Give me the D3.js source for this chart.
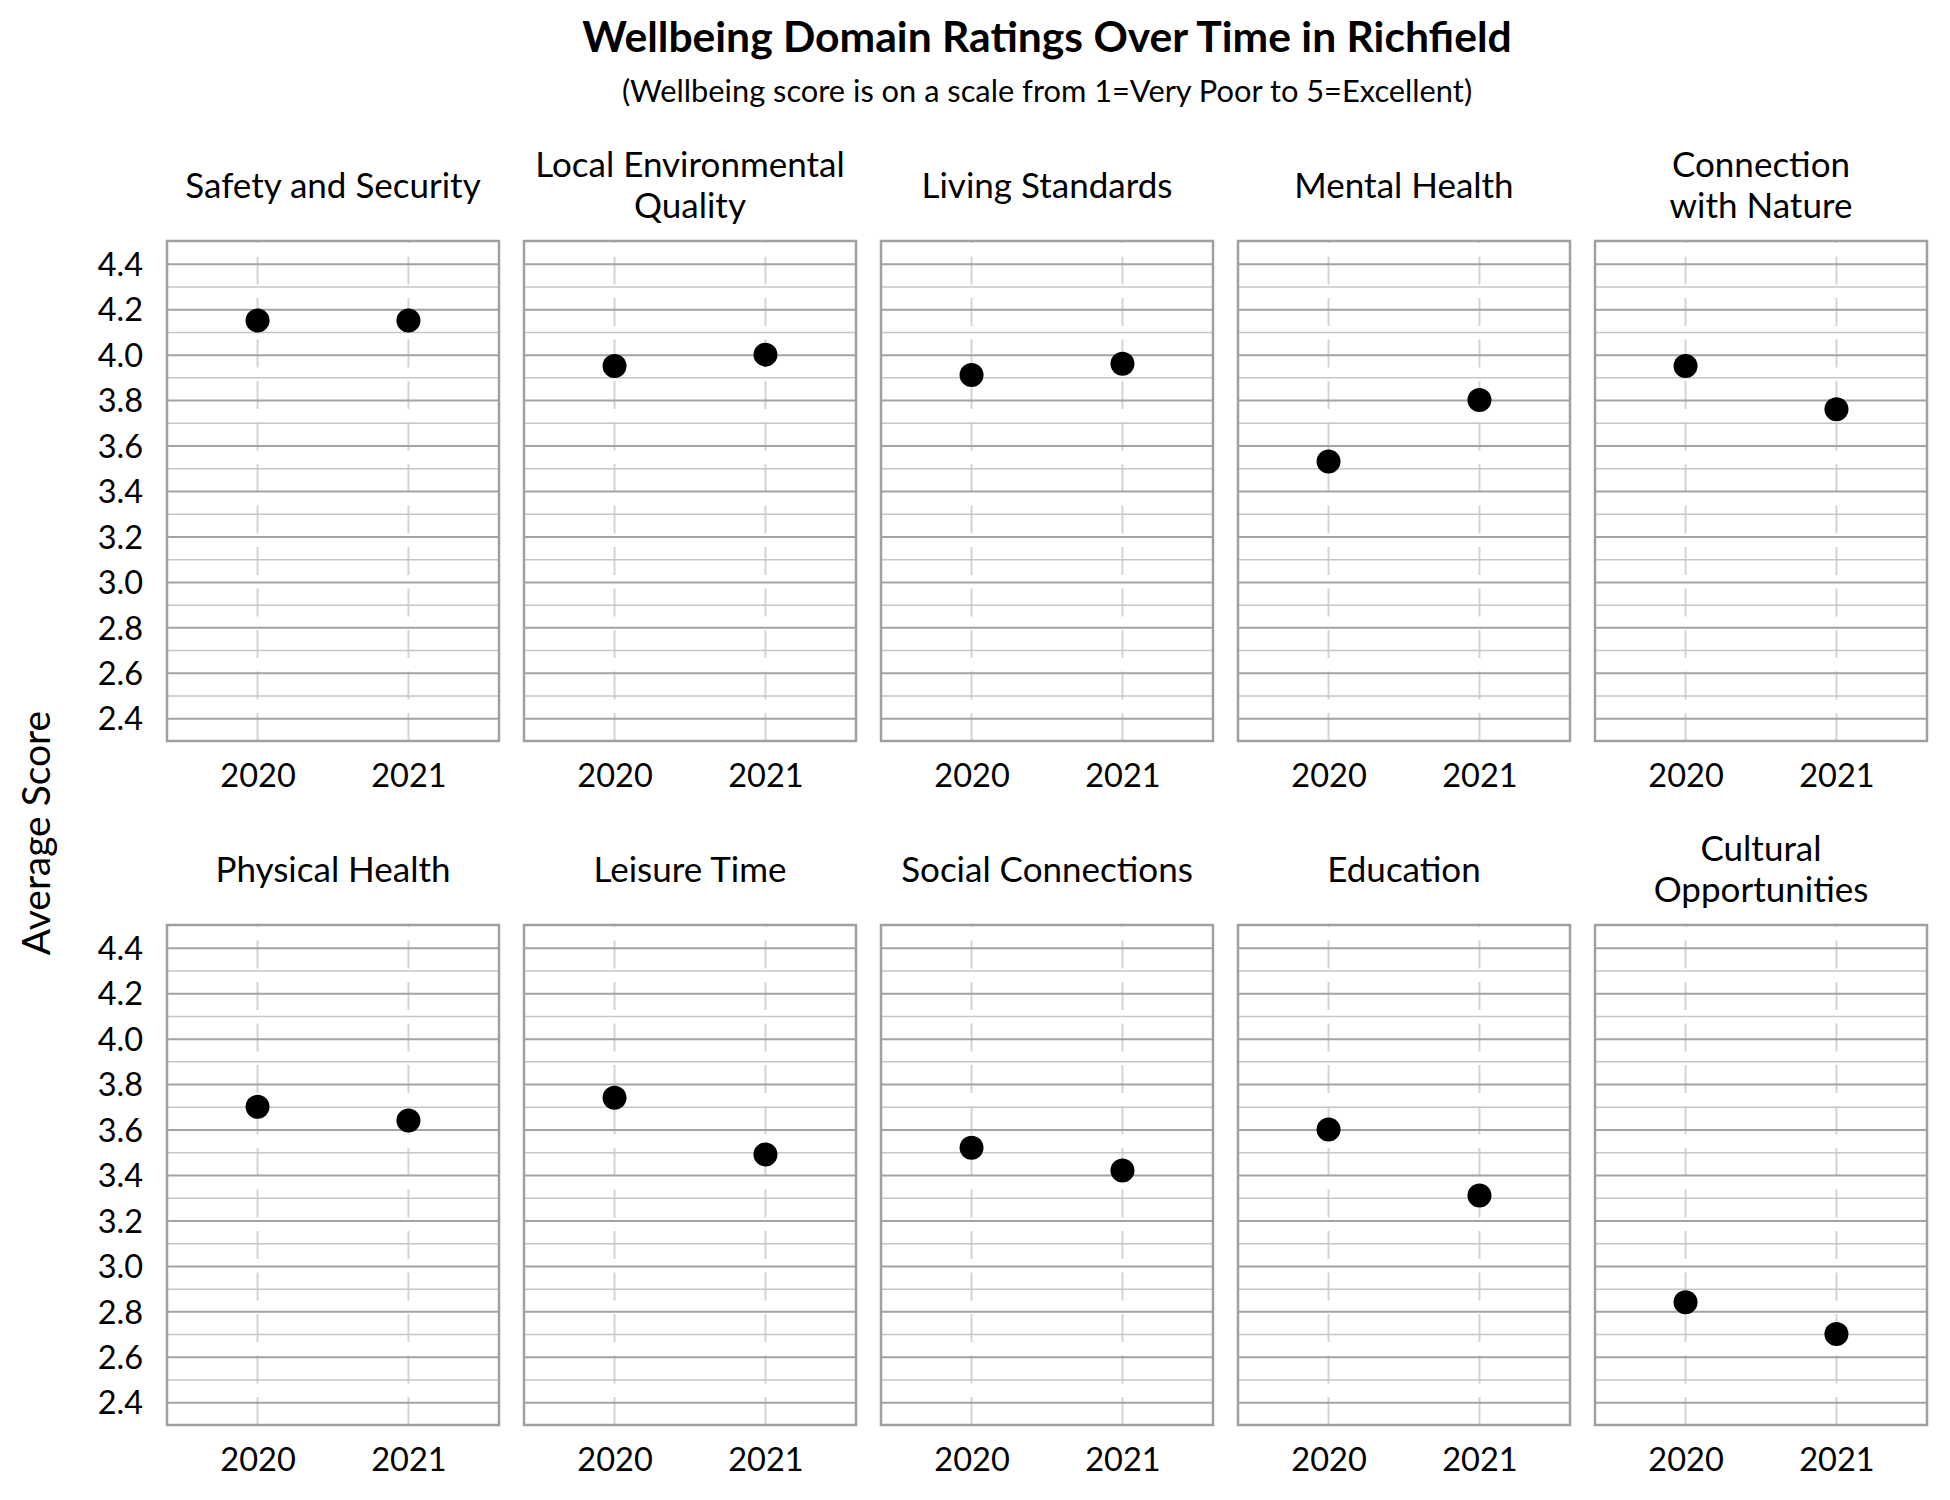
<!DOCTYPE html>
<html>
<head>
<meta charset="utf-8">
<script src="https://cdn.jsdelivr.net/npm/d3@7"></script>
<style>
    body { margin: 0; background: #fff; }
    svg text { font-family: Lato, 'Open Sans', sans-serif; fill: #000; }
    .grid .domain { display: none; }
</style>
</head>
<body>
<div id="chart"></div>
<script>
// chart data
const years = ['2020', '2021'];
const domains = ['Safety and Security', 'Local Environmental Quality', 'Living Standards', 'Mental Health',
    'Connection with Nature', 'Physical Health', 'Leisure Time', 'Social Connections', 'Education',
    'Cultural Opportunities'];
// panel headings as they wrap in the original
const panelTitles = ['Safety and Security', 'Local Environmental\nQuality', 'Living Standards', 'Mental Health',
    'Connection\nwith Nature', 'Physical Health', 'Leisure Time', 'Social Connections', 'Education',
    'Cultural\nOpportunities'];
const scores2020 = [4.15, 3.95, 3.91, 3.53, 3.95, 3.70, 3.74, 3.52, 3.60, 2.84];
const scores2021 = [4.15, 4.00, 3.96, 3.80, 3.76, 3.64, 3.49, 3.42, 3.31, 2.70];
const yTicks = [2.4, 2.6, 2.8, 3.0, 3.2, 3.4, 3.6, 3.8, 4.0, 4.2, 4.4];
const yDomain = [2.3, 4.5];

const chartTitle = 'Wellbeing Domain Ratings Over Time in Richfield';
const chartSubtitle = '(Wellbeing score is on a scale from 1=Very Poor to 5=Excellent)';
const yLabel = 'Average Score';

class SmallMultiples {
    constructor(){
        this.width = 1950;
        this.height = 1500;
        this.margin = {top: 241, left: 167};
        this.panelW = 332;
        this.panelH = 500;
        this.gapX = 25;
        this.rowStep = 684;
        this.cols = 5;

        this.svg = d3.select('#chart').append('svg')
            .attr('width', this.width).attr('height', this.height)
            ;
    }

    draw(){
        let totalW = this.cols * this.panelW + (this.cols - 1) * this.gapX;
        let cx = this.margin.left + totalW / 2;

        // Titles
        this.svg.append('text')
            .attr('x', cx).attr('y', 52)
            .attr('text-anchor', 'middle')
            .style('font-size', '42.6px').style('font-weight', 700)
            .text(chartTitle);
        this.svg.append('text')
            .attr('x', cx).attr('y', 102)
            .attr('text-anchor', 'middle')
            .style('font-size', '30.8px')
            .text(chartSubtitle);

        // shared y label
        this.svg.append('text')
            .attr('transform', `translate(50,833) rotate(-90)`)
            .attr('text-anchor', 'middle')
            .style('font-size', '39px')
            .text(yLabel);

        let x = d3.scalePoint()
            .domain(years)
            .range([0, this.panelW])
            .padding(0.6)
            ;
        let y = d3.scaleLinear()
            .domain(yDomain)
            .range([this.panelH, 0])
            ;
        let minorTicks = yTicks.slice(0, -1).map(t => +(t + 0.1).toFixed(1));

        domains.forEach((name, i) => {
            let col = i % this.cols;
            let row = Math.floor(i / this.cols);
            let pts = years.map((yr, j) => ({yr: yr, v: j === 0 ? scores2020[i] : scores2021[i]}));

            let g = this.svg.append('g')
                .attr('transform', `translate(${this.margin.left + col * (this.panelW + this.gapX)},${this.margin.top + row * this.rowStep})`)
                ;

            // vertical dashed lines at each year
            g.selectAll('.vline').data(years).enter().append('line')
                .attr('x1', d => x(d)).attr('x2', d => x(d))
                .attr('y1', this.panelH).attr('y2', 0)
                .attr('stroke', '#d4d4d4')
                .attr('stroke-width', 2)
                .attr('stroke-dasharray', '28,13.5')
                ;

            // horizontal grid, minor then major
            g.append('g').attr('class', 'grid')
                .call(d3.axisLeft(y).tickValues(minorTicks).tickSize(-this.panelW).tickFormat(''))
                .selectAll('line').attr('stroke', '#c6c6c6').attr('stroke-width', 1.5);
            g.append('g').attr('class', 'grid')
                .call(d3.axisLeft(y).tickValues(yTicks).tickSize(-this.panelW).tickFormat(''))
                .selectAll('line').attr('stroke', '#a3a3a3').attr('stroke-width', 2);

            // panel border
            g.append('rect')
                .attr('width', this.panelW).attr('height', this.panelH)
                .attr('fill', 'none')
                .attr('stroke', '#a0a0a0')
                .attr('stroke-width', 2.5)
                ;

            // points
            g.selectAll('circle').data(pts).enter().append('circle')
                .attr('cx', d => x(d.yr))
                .attr('cy', d => y(d.v))
                .attr('r', 12)
                .attr('fill', '#000')
                ;

            // X axis labels
            let xa = g.append('g')
                .attr('class', 'grid')
                .attr('transform', `translate(0,${this.panelH})`)
                .call(d3.axisBottom(x).tickSize(0));
            xa.selectAll('text')
                .attr('y', 46).attr('dy', null)
                .style('font-size', '32.5px');

            // Y axis on first column only
            if (col === 0){
                let ya = g.append('g')
                    .attr('class', 'grid')
                    .call(d3.axisLeft(y).tickValues(yTicks).tickSize(0).tickPadding(24).tickFormat(d3.format('.1f')));
                ya.selectAll('text')
                    .attr('dy', '0.36em')
                    .style('font-size', '32.5px');
            }

            // panel heading
            let lines = panelTitles[i].split('\n');
            g.append('text')
                .attr('text-anchor', 'middle')
                .style('font-size', '35px')
                .selectAll('tspan').data(lines).enter().append('tspan')
                .attr('x', this.panelW / 2)
                .attr('y', (d, k) => -43.3 + (k - (lines.length - 1) / 2) * 41)
                .text(d => d);
        });
    }
}

let chart = new SmallMultiples();
chart.draw();
</script>
</body>
</html>
